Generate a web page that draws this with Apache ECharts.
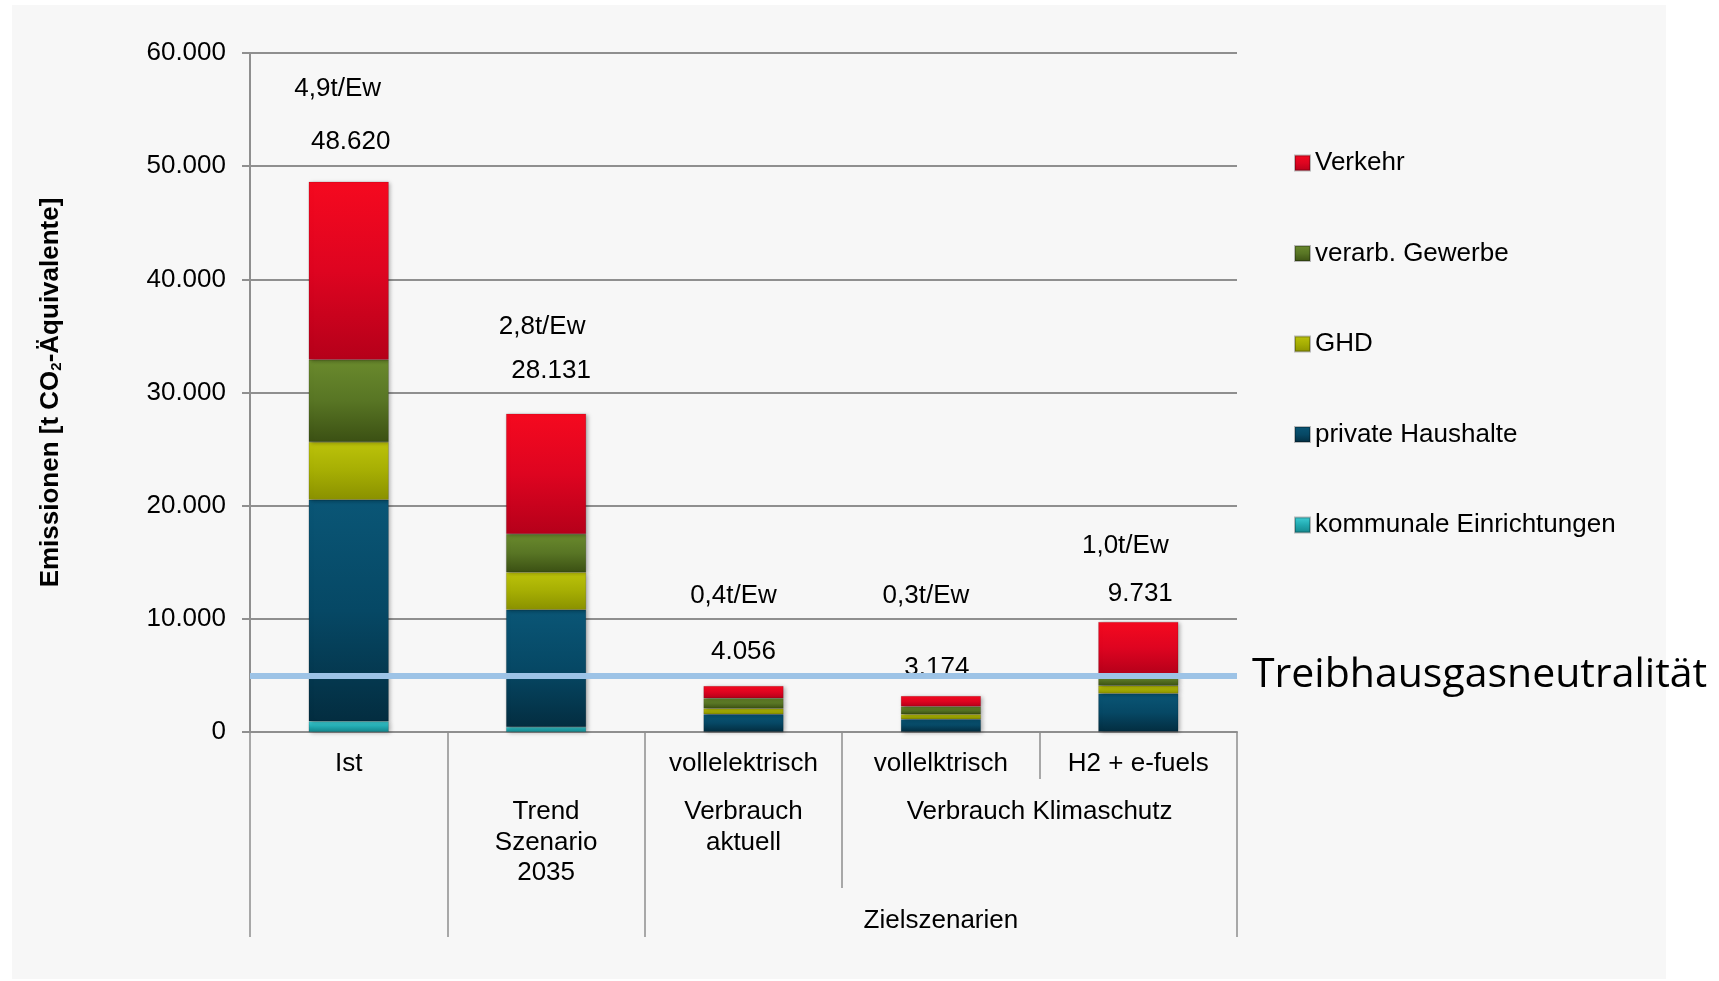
<!DOCTYPE html>
<html>
<head>
<meta charset="utf-8">
<title>Emissionen</title>
<script src="https://cdn.jsdelivr.net/npm/echarts@6/dist/echarts.min.js"></script>
<style>
html, body { margin: 0; padding: 0; background: #fff; }
#chartDom { width: 1719px; height: 981px; }
</style>
</head>
<body>
<div id="chartDom"></div>
<script>
// categories (bottom level of the stacked bars)
const categories = ['Ist', 'Trend Szenario 2035', 'vollelektrisch', 'vollelktrisch', 'H2 + e-fuels'];

// emissions per sector [t CO2-Äquivalente]
const kommunal = [940, 450, 30, 30, 40];
const haushalte = [19580, 10350, 1540, 1100, 3360];
const ghd = [5100, 3310, 500, 440, 680];
const gewerbe = [7270, 3380, 920, 680, 1040];
const verkehr = [15730, 10641, 1066, 924, 4611];
const perCapita = ['4,9t/Ew', '2,8t/Ew', '0,4t/Ew', '0,3t/Ew', '1,0t/Ew'];
const neutralLevel = 5000;

// multi level axis text, 11 slots = category borders and centres
const row1 = ['', 'Ist', '', '', '', 'vollelektrisch', '', 'vollelktrisch', '', 'H2 + e-fuels', ''];
const row2 = ['', '', '', 'Trend\nSzenario\n2035', '', 'Verbrauch\naktuell', '', '', 'Verbrauch Klimaschutz', '', ''];
const row3 = ['', '', '', '', '', '', '', 'Zielszenarien', '', '', ''];

const totals = categories.map((c, i) => kommunal[i] + haushalte[i] + ghd[i] + gewerbe[i] + verkehr[i]);

// hand placed label shifts [dx, px above bar top]
const totalShift = [[2, 40], [5, 43], [0, 34], [-4, 28], [2, 28]];
const perCapShift = [[-11, 93], [-4, 87], [-10, 90], [-15, 100], [-13, 76]];

const font = "'Liberation Sans', Arial, sans-serif";
const gray = '#8f8f8f';
const ink = '#000';

function fmt(v) {
  return String(v).replace(/\B(?=(\d{3})+(?!\d))/g, '.');
}

function bevel(top, mid, bottom) {
  return new echarts.graphic.LinearGradient(0, 0, 0, 1, [
    { offset: 0, color: top },
    { offset: 0.5, color: mid },
    { offset: 1, color: bottom }
  ]);
}

function barSeries(name, data, top, mid, bottom) {
  return {
    name: name,
    type: 'bar',
    stack: 'sum',
    data: data,
    barWidth: 80,
    itemStyle: {
      color: bevel(top, mid, bottom),
      borderColor: 'rgba(0,0,0,0.25)',
      borderWidth: 0.5,
      shadowColor: 'rgba(0,0,0,0.3)',
      shadowBlur: 4,
      shadowOffsetX: 2,
      shadowOffsetY: 1
    }
  };
}

function tickAxis(idx, len) {
  return {
    type: 'category',
    data: categories,
    position: 'bottom',
    axisLine: { show: false },
    axisLabel: { show: false },
    axisTick: {
      show: true,
      length: len,
      interval: (i) => idx.includes(i),
      lineStyle: { color: gray, width: 1.5 }
    }
  };
}

function labelAxis(data, margin) {
  return {
    type: 'category',
    data: data,
    boundaryGap: false,
    position: 'bottom',
    axisLine: { show: false },
    axisTick: { show: false },
    axisLabel: {
      interval: 0,
      margin: margin,
      fontSize: 26,
      lineHeight: 30.5,
      color: ink,
      fontFamily: font,
      align: 'center'
    }
  };
}

// invisible points that only carry the text above each bar
function textSeries(name, shift, text) {
  return {
    name: name,
    type: 'scatter',
    symbolSize: 0,
    silent: true,
    itemStyle: { opacity: 1, color: 'transparent' },
    data: totals.map((v, i) => ({ value: v, label: { offset: [shift[i][0], -(shift[i][1] - 13)] } })),
    label: {
      show: true,
      position: 'top',
      distance: 0,
      fontSize: 26,
      color: ink,
      opacity: 1,
      fontFamily: font,
      formatter: text
    }
  };
}

var myChart = echarts.init(document.getElementById('chartDom'));

const option = {
  animation: false,
  backgroundColor: '#fff',
  textStyle: { fontFamily: font },
  graphic: [{
    type: 'rect',
    left: 12,
    top: 5,
    z: -10,
    silent: true,
    shape: { width: 1654, height: 974 },
    style: { fill: '#f7f7f7' }
  }],
  grid: { left: 250, top: 53, width: 987, height: 679, containLabel: false },
  legend: {
    orient: 'vertical',
    left: 1294,
    top: 150,
    padding: 0,
    itemWidth: 15,
    itemHeight: 15,
    itemGap: 64.5,
    icon: 'rect',
    data: ['Verkehr', 'verarb. Gewerbe', 'GHD', 'private Haushalte', 'kommunale Einrichtungen'],
    textStyle: { fontSize: 26, color: ink, fontFamily: font }
  },
  xAxis: [
    {
      type: 'category',
      data: categories,
      position: 'bottom',
      axisLine: { show: true, lineStyle: { color: gray, width: 2 } },
      axisLabel: { show: false },
      axisTick: {
        show: true,
        length: 205,
        interval: (i) => [0, 1, 2].includes(i),
        lineStyle: { color: gray, width: 1.5 }
      }
    },
    tickAxis([0, 3], 156),
    tickAxis([0, 4], 47),
    labelAxis(row1, 17),
    labelAxis(row2, 65),
    labelAxis(row3, 174)
  ],
  yAxis: {
    type: 'value',
    min: 0,
    max: 60000,
    interval: 10000,
    name: 'Emissionen [t CO{sub|2}-Äquivalente]',
    nameLocation: 'middle',
    nameRotate: 90,
    nameGap: 186,
    nameTextStyle: {
      fontSize: 26,
      fontWeight: 'bold',
      color: ink,
      fontFamily: font,
      rich: {
        sub: { fontSize: 15, fontWeight: 'bold', color: ink, fontFamily: font, padding: [12, 0, 0, 0] }
      }
    },
    axisLine: { show: true, lineStyle: { color: gray, width: 2 } },
    axisTick: { show: true, length: 8, lineStyle: { color: gray, width: 2 } },
    axisLabel: { margin: 24, fontSize: 26, color: ink, fontFamily: font, formatter: (v) => fmt(v) },
    splitLine: { show: true, lineStyle: { color: gray, width: 2 } }
  },
  series: [
    barSeries('kommunale Einrichtungen', kommunal, '#3fd0d6', '#22a9b0', '#13858b'),
    barSeries('private Haushalte', haushalte, '#0a5676', '#064865', '#032d40'),
    barSeries('GHD', ghd, '#bcc30a', '#a6ae03', '#8a9100'),
    barSeries('verarb. Gewerbe', gewerbe, '#6a8a2d', '#587524', '#3b5013'),
    Object.assign(barSeries('Verkehr', verkehr, '#f5091f', '#de0420', '#b5001a'), {
      markLine: {
        silent: true,
        symbol: 'none',
        z: 5,
        lineStyle: { color: '#9dc3e6', width: 6, type: 'solid' },
        label: {
          show: true,
          position: 'end',
          distance: 15,
          formatter: 'Treibhausgasneutralität',
          fontSize: 41,
          fontFamily: 'Open Sans',
          color: '#000'
        },
        data: [{ yAxis: neutralLevel }]
      }
    }),
    textSeries('Summe', totalShift, (p) => fmt(p.value)),
    textSeries('pro Einwohner', perCapShift, (p) => perCapita[p.dataIndex])
  ]
};

myChart.setOption(option);
</script>
</body>
</html>
